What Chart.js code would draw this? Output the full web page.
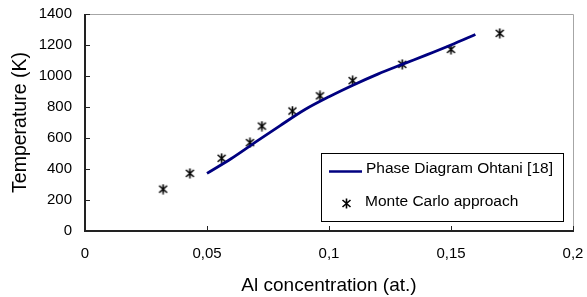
<!DOCTYPE html>
<html>
<head>
<meta charset="utf-8">
<script src="https://cdn.jsdelivr.net/npm/chart.js@4/dist/chart.umd.min.js"></script>
<style>
  html, body { margin: 0; padding: 0; background: #fff; }
  #wrap { width: 587px; height: 297px; }
</style>
</head>
<body>
<div id="wrap"><canvas id="chart"></canvas></div>
<script>
// data
var ohtaniX = [0.05, 0.06, 0.07, 0.08, 0.09, 0.10, 0.11, 0.12, 0.13, 0.14, 0.15, 0.16];
var ohtaniT = [372, 468, 575, 680, 782, 866, 942, 1012, 1075, 1136, 1200, 1268];
var mcX = [0.032, 0.043, 0.056, 0.0676, 0.0725, 0.085, 0.0963, 0.1097, 0.130, 0.150, 0.170];
var mcT = [270, 372, 469, 570, 677, 774, 872, 970, 1075, 1172, 1275];
var xTicks = [0, 0.05, 0.1, 0.15, 0.2];
var yTicks = [0, 200, 400, 600, 800, 1000, 1200, 1400];
var labels = ["Phase Diagram Ohtani [18]", "Monte Carlo approach"];

var FONT = "'Liberation Sans', Arial, sans-serif";

// asterisk marker like "ж"
function makeStar() {
  var c = document.createElement("canvas");
  c.width = 11; c.height = 11;
  var g = c.getContext("2d");
  g.strokeStyle = "#000";
  g.lineWidth = 1.6;
  g.beginPath();
  g.moveTo(1.5, 2); g.lineTo(9.5, 9);
  g.moveTo(9.5, 2); g.lineTo(1.5, 9);
  g.moveTo(5.5, 0.5); g.lineTo(5.5, 10.5);
  g.stroke();
  return c;
}
var starImg = makeStar();

function pairs(xs, ys) {
  return xs.map(function (x, i) { return { x: x, y: ys[i] }; });
}

function fmt(v) {
  return String(Number(v.toFixed(2))).replace(".", ",");
}

// frame, inward ticks and the boxed legend
var framePlugin = {
  id: "frame",
  beforeDatasetsDraw: function (chart) {
    var a = chart.chartArea, ctx = chart.ctx;
    var xs = chart.scales.x, ys = chart.scales.y;
    ctx.save();
    ctx.strokeStyle = "#a6a6a6";
    ctx.lineWidth = 1;
    ctx.beginPath();
    ctx.moveTo(a.left, a.top + 0.5); ctx.lineTo(a.right + 0.5, a.top + 0.5);
    ctx.lineTo(a.right + 0.5, a.bottom);
    ctx.stroke();
    ctx.strokeStyle = "#222";
    ctx.lineWidth = 2;
    ctx.beginPath();
    ctx.moveTo(a.left, a.top); ctx.lineTo(a.left, a.bottom);
    ctx.lineTo(a.right + 1, a.bottom);
    ctx.stroke();
    ctx.lineWidth = 1;
    yTicks.forEach(function (t) {
      var py = Math.round(ys.getPixelForValue(t)) + 0.5;
      ctx.beginPath(); ctx.moveTo(a.left, py); ctx.lineTo(a.left + 5, py); ctx.stroke();
    });
    xTicks.forEach(function (t) {
      var px = Math.round(xs.getPixelForValue(t)) + 0.5;
      ctx.beginPath(); ctx.moveTo(px, a.bottom); ctx.lineTo(px, a.bottom - 5); ctx.stroke();
    });
    ctx.restore();
  },
  afterDraw: function (chart) {
    var ctx = chart.ctx;
    var bx = 321, by = 153, bw = 242, bh = 68;
    ctx.save();
    ctx.fillStyle = "#fff";
    ctx.fillRect(bx, by, bw, bh);
    ctx.strokeStyle = "#000";
    ctx.lineWidth = 1;
    ctx.strokeRect(bx + 0.5, by + 0.5, bw, bh);
    ctx.font = "15.5px " + FONT;
    ctx.fillStyle = "#000";
    ctx.textBaseline = "middle";
    ctx.fillText(labels[0], 366, by + 16);
    ctx.fillText(labels[1], 365, by + 49);
    ctx.strokeStyle = "#000080";
    ctx.lineWidth = 2.5;
    ctx.beginPath(); ctx.moveTo(329, by + 18.5); ctx.lineTo(362, by + 18.5); ctx.stroke();
    ctx.drawImage(starImg, 341, by + 45);
    ctx.restore();
  }
};

new Chart(document.getElementById("chart"), {
  type: "scatter",
  data: {
    datasets: [
      {
        label: labels[0],
        data: pairs(ohtaniX, ohtaniT),
        showLine: true,
        borderColor: "#000080",
        borderWidth: 2.8,
        pointRadius: 0,
        cubicInterpolationMode: "monotone",
        fill: false
      },
      {
        label: labels[1],
        data: pairs(mcX, mcT),
        showLine: false,
        pointStyle: starImg,
        pointRadius: 5
      }
    ]
  },
  options: {
    responsive: true,
    maintainAspectRatio: false,
    animation: false,
    layout: { padding: { top: 14, right: 14, left: 0, bottom: 0 } },
    plugins: { legend: { display: false }, tooltip: { enabled: false } },
    scales: {
      x: {
        type: "linear",
        min: 0, max: 0.2,
        afterBuildTicks: function (s) { s.ticks = xTicks.map(function (v) { return { value: v }; }); },
        afterFit: function (s) { s.height = 66; s.paddingLeft = 0; s.paddingRight = 0; },
        grid: { display: false, drawTicks: false },
        border: { display: false },
        ticks: {
          padding: 14,
          color: "#000",
          font: { family: FONT, size: 15 },
          maxRotation: 0,
          callback: function (v) { return fmt(v); }
        },
        title: {
          display: true,
          text: "Al concentration (at.)",
          color: "#000",
          font: { family: FONT, size: 19 },
          padding: { top: 4, bottom: 0 }
        }
      },
      y: {
        min: 0, max: 1400,
        afterBuildTicks: function (s) { s.ticks = yTicks.map(function (v) { return { value: v }; }); },
        afterFit: function (s) { s.width = 85; s.paddingTop = 0; s.paddingBottom = 0; },
        grid: { display: false, drawTicks: false },
        border: { display: false },
        ticks: {
          padding: 13,
          color: "#000",
          font: { family: FONT, size: 15 },
          callback: function (v) { return String(v); }
        },
        title: {
          display: true,
          text: "Temperature (K)",
          color: "#000",
          font: { family: FONT, size: 19.5 },
          padding: { top: 9, bottom: 0 }
        }
      }
    }
  },
  plugins: [framePlugin]
});
</script>
</body>
</html>
